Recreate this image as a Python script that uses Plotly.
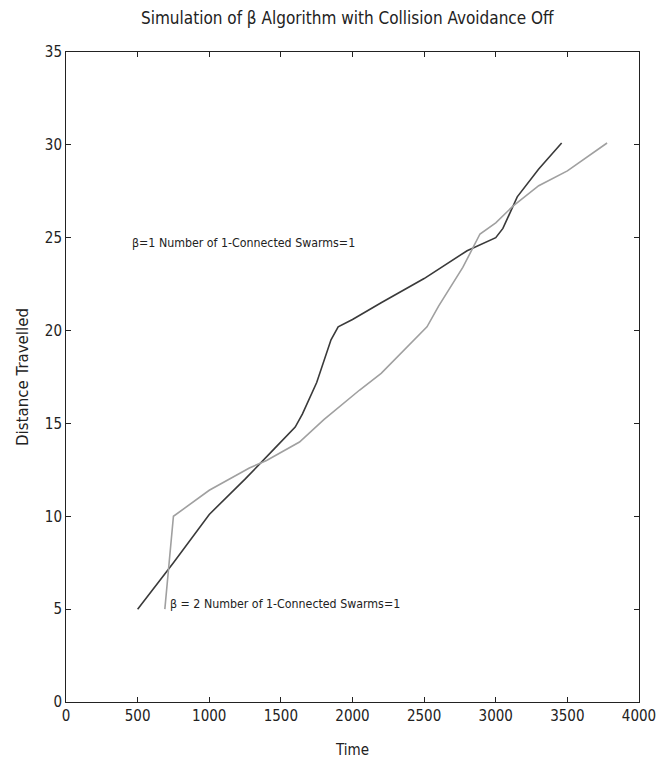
import plotly.graph_objects as go

# beta = 1 run (dark line)
time_b1 = [500, 750, 1000, 1250, 1450, 1600, 1650, 1750, 1850, 1900, 2000, 2200, 2500, 2800, 3000, 3050, 3150, 3300, 3460]
dist_b1 = [5.0, 7.5, 10.1, 12.0, 13.6, 14.8, 15.5, 17.2, 19.5, 20.2, 20.6, 21.5, 22.8, 24.3, 25.0, 25.5, 27.2, 28.7, 30.1]

# beta = 2 run (light line)
time_b2 = [690, 750, 1000, 1280, 1400, 1630, 1800, 2050, 2200, 2520, 2600, 2770, 2890, 3000, 3120, 3300, 3500, 3777]
dist_b2 = [5.0, 10.0, 11.4, 12.6, 13.0, 14.0, 15.2, 16.8, 17.7, 20.2, 21.3, 23.4, 25.2, 25.8, 26.7, 27.8, 28.6, 30.1]

x_ticks = [0, 500, 1000, 1500, 2000, 2500, 3000, 3500, 4000]
y_ticks = [0, 5, 10, 15, 20, 25, 30, 35]

title_text = "Simulation of β Algorithm with Collision Avoidance Off"
label_b1 = "β=1 Number of 1-Connected Swarms=1"
label_b2 = "β = 2 Number of 1-Connected Swarms=1"

narrow = "DejaVu Sans Condensed, Liberation Sans Narrow, sans-serif"

fig = go.Figure()
fig.add_trace(go.Scatter(x=time_b1, y=dist_b1, mode="lines",
                         line=dict(color="#3a3a3a", width=1.6), showlegend=False))
fig.add_trace(go.Scatter(x=time_b2, y=dist_b2, mode="lines",
                         line=dict(color="#a0a0a0", width=1.6), showlegend=False))

fig.add_annotation(x=447, y=24.7, text=label_b1, showarrow=False, xanchor="left",
                   font=dict(family=narrow, size=12.3, color="#222"))
fig.add_annotation(x=712, y=5.3, text=label_b2, showarrow=False, xanchor="left",
                   font=dict(family=narrow, size=12.3, color="#222"))

axis_common = dict(showgrid=False, zeroline=False, showline=True, linecolor="#222",
                   linewidth=1, mirror="ticks", ticks="inside", ticklen=5, automargin=False,
                   tickcolor="#222", tickfont=dict(family=narrow, size=15, color="#222"))

fig.update_layout(
    width=659, height=766,
    margin=dict(l=66, r=20, t=52, b=64),
    paper_bgcolor="white", plot_bgcolor="white",
    title=dict(text=title_text, x=0.527, xanchor="center", y=0.977, yanchor="middle",
               font=dict(family=narrow, size=17, color="#222")),
    xaxis=dict(range=[0, 4000], tickvals=x_ticks, title=dict(text="Time", standoff=20,
               font=dict(family=narrow, size=15, color="#222")), **axis_common),
    yaxis=dict(range=[0, 35], tickvals=y_ticks, title=dict(text="Distance Travelled", standoff=12,
               font=dict(family="DejaVu Sans, sans-serif", size=15, color="#222")), **axis_common),
)

fig.write_html("out.html")
